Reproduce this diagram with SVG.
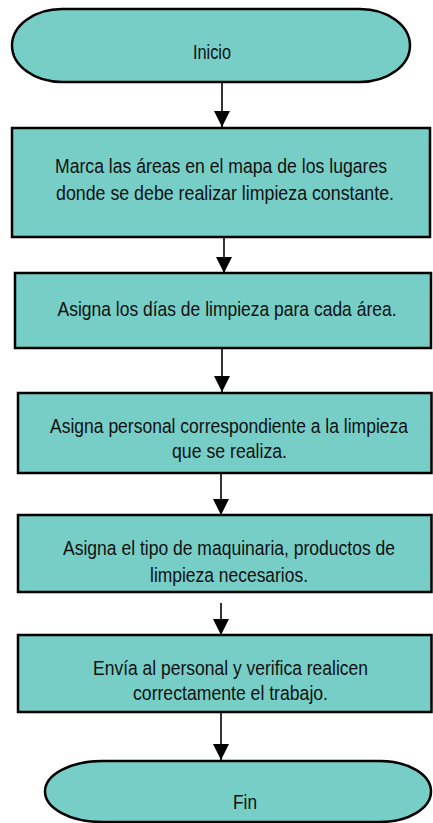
<svg xmlns="http://www.w3.org/2000/svg" width="433" height="823" viewBox="0 0 433 823">
<style>
.shape{fill:#76CEC7;stroke:#000;stroke-width:2.5}
.lbl{font-family:"Liberation Sans Narrow","Arial Narrow","Liberation Sans",sans-serif;font-size:16.5px;fill:#111;text-anchor:middle}
.conn{stroke:#000;stroke-width:1.6;fill:none;marker-end:url(#arr)}
</style>
<defs>
<marker id="arr" markerUnits="userSpaceOnUse" markerWidth="18" markerHeight="16" refX="16" refY="8" orient="auto">
<path d="M0,0 L16,8 L0,16 Z" fill="#000"/>
</marker>
</defs>
<g id="connectors">
<line class="conn" x1="222" y1="82" x2="222" y2="127"/>
<line class="conn" x1="224" y1="237" x2="224" y2="273"/>
<line class="conn" x1="222" y1="348" x2="222" y2="392"/>
<line class="conn" x1="221" y1="473" x2="221" y2="515"/>
<line class="conn" x1="221" y1="603" x2="221" y2="635"/>
<line class="conn" x1="221" y1="713" x2="221" y2="760"/>
</g>
<g id="inicio">
<path class="shape" d="M62,9 H360 A50,36.5 0 0 1 360,82 H62 A50,36.5 0 0 1 62,9 Z"/>
<text class="lbl" transform="translate(212,59) scale(1,1.18)" textLength="38" lengthAdjust="spacingAndGlyphs">Inicio</text>
</g>
<g id="paso1">
<rect class="shape" x="12" y="128" width="418" height="109"/>
<text class="lbl" transform="translate(221,173) scale(1,1.18)" textLength="332" lengthAdjust="spacingAndGlyphs">Marca las áreas en el mapa de los lugares</text>
<text class="lbl" transform="translate(225,200) scale(1,1.18)" textLength="338" lengthAdjust="spacingAndGlyphs">donde se debe realizar limpieza constante.</text>
</g>
<g id="paso2">
<rect class="shape" x="15" y="273" width="416" height="75"/>
<text class="lbl" transform="translate(227,316) scale(1,1.18)" textLength="339" lengthAdjust="spacingAndGlyphs">Asigna los días de limpieza para cada área.</text>
</g>
<g id="paso3">
<rect class="shape" x="18" y="393" width="413.5" height="80"/>
<text class="lbl" transform="translate(229,433) scale(1,1.18)" textLength="358" lengthAdjust="spacingAndGlyphs">Asigna personal correspondiente a la limpieza</text>
<text class="lbl" transform="translate(229.5,458) scale(1,1.18)" textLength="115" lengthAdjust="spacingAndGlyphs">que se realiza.</text>
</g>
<g id="paso4">
<rect class="shape" x="18" y="515" width="413.5" height="77"/>
<text class="lbl" transform="translate(229,555) scale(1,1.18)" textLength="332" lengthAdjust="spacingAndGlyphs">Asigna el tipo de maquinaria, productos de</text>
<text class="lbl" transform="translate(229,582) scale(1,1.18)" textLength="158" lengthAdjust="spacingAndGlyphs">limpieza necesarios.</text>
</g>
<g id="paso5">
<rect class="shape" x="18" y="635" width="413.5" height="77"/>
<text class="lbl" transform="translate(230.5,675) scale(1,1.18)" textLength="275" lengthAdjust="spacingAndGlyphs">Envía al personal y verifica realicen</text>
<text class="lbl" transform="translate(230.5,700) scale(1,1.18)" textLength="195" lengthAdjust="spacingAndGlyphs">correctamente el trabajo.</text>
</g>
<g id="fin">
<path class="shape" d="M102,761 H380 A51,30.5 0 0 1 380,822 H102 A57,30.5 0 0 1 102,761 Z"/>
<text class="lbl" transform="translate(245,809) scale(1,1.18)" textLength="24" lengthAdjust="spacingAndGlyphs">Fin</text>
</g>
</svg>
